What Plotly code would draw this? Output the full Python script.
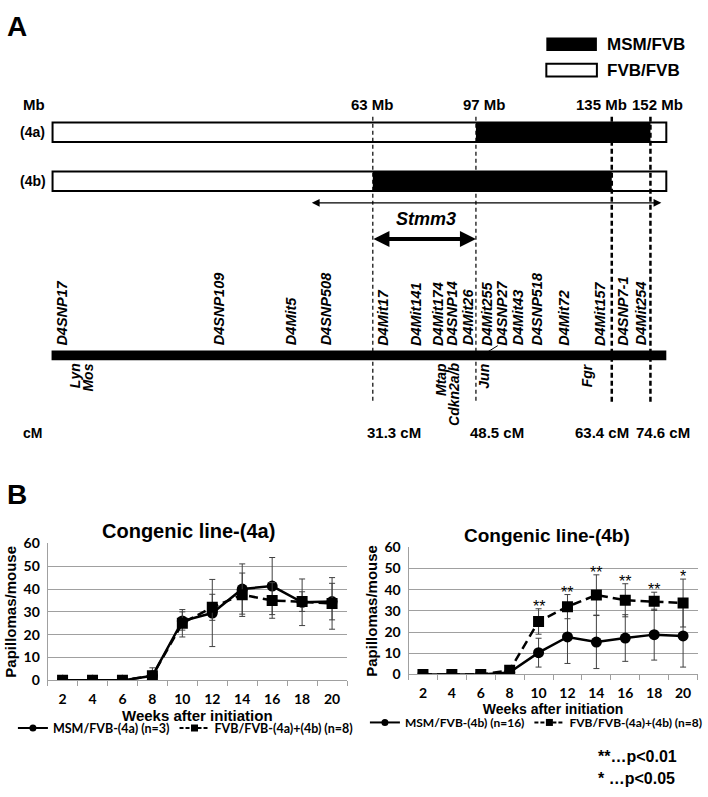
import plotly.graph_objects as go

W, H = 708, 797

# ---------------- Panel B data ----------------
weeks = [2, 4, 6, 8, 10, 12, 14, 16, 18, 20]
msm_4a_mean = [0, 0, 0, 2.0, 26.0, 29.5, 40.0, 41.3, 34.2, 34.5]
msm_4a_sd = [0, 0, 0, 3.5, 4.0, 14.7, 11.0, 12.5, 10.2, 8.0]
fvb_mean = [0, 0, 0, 2.0, 25.0, 32.0, 37.5, 35.0, 34.5, 33.7]
fvb_sd = [0, 0, 0, 2.0, 6.0, 5.7, 9.5, 7.8, 4.3, 11.3]
msm_4b_mean = [0, 0, 0, 1.0, 10.3, 17.7, 15.3, 17.2, 18.8, 18.2]
msm_4b_sd = [0, 0, 0, 1.0, 6.8, 12.5, 12.5, 11.0, 12.0, 14.7]
signif = ["", "", "", "", "**", "**", "**", "**", "**", "*"]

name_4a = "MSM/FVB-(4a) (n=3)"
name_4b = "MSM/FVB-(4b) (n=16)"
name_fvb = "FVB/FVB-(4a)+(4b) (n=8)"

# ---------------- Panel A data (schematic map positions) ----------------
mb_labels = ["63 Mb", "97 Mb", "135 Mb", "152 Mb"]
mb_label_x = [376, 489, 607, 663]
break_x = [376, 480, 617, 656]
break_bold = [False, False, True, True]
cm_labels = ["31.3 cM", "48.5 cM", "63.4 cM", "74.6 cM"]
cm_label_x = [397, 501, 607, 669]
marker_names = ["D4SNP17", "D4SNP109", "D4Mit5", "D4SNP508", "D4Mit17", "D4Mit141",
                "D4Mit174", "D4SNP14", "D4Mit26", "D4Mit255", "D4SNP27", "D4Mit43",
                "D4SNP518", "D4Mit72", "D4Mit157", "D4SNP7-1", "D4Mit254"]
marker_x = [63, 221, 293, 329, 386, 419, 441, 456, 472, 491, 506, 522, 542, 568, 605, 628, 646]
gene_names = ["Lyn", "Mos", "Mtap", "Cdkn2a/b", "Jun", "Fgr"]
gene_x = [75, 89, 445, 458, 488, 592]
chrom_start, chrom_end = 53, 672
msm_segment_4a = (480, 656)
msm_segment_4b = (376, 617)
stmm3_span = (376, 480)
candidate_span = (316, 667)

ARIAL = "Liberation Sans, Arial"
CAL = "Lato"

fig = go.Figure()


def err(arr):
    return dict(type="data", array=arr, visible=True, color="#404040", thickness=1, width=3)


def add_series(x_ax, y_ax, mean, sd, name, symbol, dash, legend):
    fig.add_trace(go.Scatter(
        x=weeks, y=mean, error_y=err(sd), mode="lines+markers", name=name, showlegend=False,
        line=dict(color="black", width=2.5, dash=dash),
        marker=dict(symbol=symbol, size=11, color="black"),
        xaxis=x_ax, yaxis=y_ax, hoverinfo="skip"))
    # legend entry with the smaller key symbol used by the original
    fig.add_trace(go.Scatter(
        x=[None], y=[None], mode="lines+markers", name=name, legend=legend,
        line=dict(color="black", width=2, dash="4px,2px" if dash != "solid" else "solid"),
        marker=dict(symbol=symbol, size=7, color="black"), xaxis=x_ax, yaxis=y_ax))


add_series("x", "y", msm_4a_mean, msm_4a_sd, name_4a, "circle", "solid", "legend")
add_series("x", "y", fvb_mean, fvb_sd, name_fvb, "square", "9px,5px", "legend")
add_series("x2", "y2", msm_4b_mean, msm_4b_sd, name_4b, "circle", "solid", "legend2")
add_series("x2", "y2", fvb_mean, fvb_sd, name_fvb, "square", "9px,5px", "legend2")

bounds = [w - 1 for w in weeks] + [weeks[-1] + 1]
GRID = "#a0a0a0"


def xax(domain, title_size, anchor):
    return dict(domain=domain, anchor=anchor, range=[bounds[0], bounds[-1]], tickmode="array",
                tickvals=weeks, ticktext=[str(w) for w in weeks], showgrid=False, showline=True,
                linecolor=GRID, linewidth=1, ticks="", zeroline=False, fixedrange=True,
                ticklabelstandoff=6,
                tickfont=dict(family=CAL, size=14, weight="bold", color="black"),
                minor=dict(ticks="outside", tickmode="array", tickvals=bounds, ticklen=5,
                           tickcolor=GRID, showgrid=False),
                title=dict(text="Weeks after initiation", standoff=1,
                           font=dict(family=ARIAL, size=title_size, weight="bold", color="black")))


def yax(domain, anchor):
    return dict(domain=domain, anchor=anchor, range=[0, 60], tickmode="linear", tick0=0, dtick=10,
                showgrid=True, gridcolor=GRID, gridwidth=1, showline=True, linecolor=GRID,
                zeroline=False, ticks="", fixedrange=True, ticklabelstandoff=4,
                tickfont=dict(family=CAL, size=14, weight="bold", color="black"),
                title=dict(text="Papillomas/mouse", standoff=3,
                           font=dict(family=ARIAL, size=15, weight="bold", color="black")))


def px(v):
    return v / W


def py(v):
    return 1 - v / H


fig.update_layout(
    width=W, height=H, margin=dict(l=0, r=0, t=0, b=0), paper_bgcolor="white",
    plot_bgcolor="white", showlegend=True,
    xaxis=xax([px(48), px(350)], 15, "y"),
    yaxis=yax([py(686), py(546)], "x"),
    xaxis2=xax([px(412), px(703.5)], 14, "y2"),
    yaxis2=yax([py(680), py(550)], "x2"),
    legend=dict(orientation="h", x=px(187), y=py(735), xanchor="center", yanchor="middle",
                font=dict(family=CAL, size=12.5, weight="bold", color="black"),
                bgcolor="rgba(0,0,0,0)", itemwidth=30, traceorder="normal"),
    legend2=dict(orientation="h", x=px(541), y=py(729), xanchor="center", yanchor="middle",
                 font=dict(family=CAL, size=12, weight="bold", color="black"),
                 bgcolor="rgba(0,0,0,0)", itemwidth=30, traceorder="normal"),
)

shapes = []
ann = []


def rect(x0, x1, y0, y1, fill, lw=0, lc="black"):
    shapes.append(dict(type="rect", xref="paper", yref="paper", x0=px(x0), x1=px(x1),
                       y0=py(y0), y1=py(y1), fillcolor=fill, line=dict(width=lw, color=lc),
                       layer="above"))


def text(x, y, s, size, xanchor="center", yanchor="middle", family=ARIAL, weight="bold",
         style="normal", angle=0, align="center"):
    ann.append(dict(xref="paper", yref="paper", x=px(x), y=py(y), text=s, showarrow=False,
                    xanchor=xanchor, yanchor=yanchor, textangle=angle, align=align, borderpad=0,
                    font=dict(family=family, size=size, weight=weight, style=style, color="black")))


def double_arrow(span, y, width, size):
    ann.append(dict(xref="paper", yref="paper", axref="pixel", ayref="pixel",
                    x=px(span[1]), y=py(y), ax=-(span[1] - span[0]), ay=0, text="",
                    showarrow=True, arrowhead=2, startarrowhead=2, arrowside="end+start",
                    arrowwidth=width, arrowsize=size, arrowcolor="black",
                    standoff=0, startstandoff=0))


# panel labels
text(6, 18, "A", 28, xanchor="left")
text(6, 496, "B", 28, xanchor="left")

# genotype legend
rect(551, 602, 29, 43, "black")
rect(551, 602, 56, 69, "white", 2)
text(611, 36, "MSM/FVB", 17, xanchor="left")
text(611, 63, "FVB/FVB", 17, xanchor="left")

# Mb header
text(34, 98, "Mb", 15)
for lab, x in zip(mb_labels, mb_label_x):
    text(x, 98, lab, 15)

# congenic bars
for lab, yc, seg in [("(4a)", 126, msm_segment_4a), ("(4b)", 176, msm_segment_4b)]:
    text(33, yc, lab, 14)
    rect(chrom_start, chrom_end, yc - 10, yc + 10, "white", 0)
    rect(seg[0], seg[1], yc - 10, yc + 10, "black", 0)
    rect(chrom_start, chrom_end, yc - 10, yc + 10, "rgba(0,0,0,0)", 2)

# chromosome
rect(chrom_start - 1, chrom_end, 349, 359, "black")

# dashed breakpoint lines
for x, bold in zip(break_x, break_bold):
    shapes.append(dict(type="line", xref="paper", yref="paper", x0=px(x), x1=px(x),
                       y0=py(110), y1=py(403),
                       line=dict(color="black", width=2.5 if bold else 1.2,
                                 dash="5px,3px" if bold else "4px,3px"), layer="above"))

# Jun leader line
shapes.append(dict(type="line", xref="paper", yref="paper", x0=px(486), x1=px(502),
                   y0=py(354), y1=py(344), line=dict(color="black", width=1), layer="above"))

# arrows
double_arrow(candidate_span, 198, 1.2, 1.3)
double_arrow(stmm3_span, 235, 4, 0.8)
text(430, 215, "Stmm3", 18, style="italic")

# marker labels
for name, x in zip(marker_names, marker_x):
    text(x, 345, name, 14.5, yanchor="bottom", weight="bold", style="italic", angle=-90)
for name, x in zip(gene_names, gene_x):
    text(x, 361, name, 14, yanchor="top", style="italic", angle=-90)

# cM row
text(33, 433, "cM", 14)
for lab, x in zip(cm_labels, cm_label_x):
    text(x, 433, lab, 15)

# chart titles
text(190, 533, "Congenic line-(4a)", 20)
text(552, 538, "Congenic line-(4b)", 19)

# significance stars
for w, m, s, st in zip(weeks, fvb_mean, fvb_sd, signif):
    if st:
        ann.append(dict(xref="x2", yref="y2", x=w, y=m + s + 1.2, text=st, showarrow=False,
                        yanchor="middle", font=dict(family=ARIAL, size=16, color="black")))

# p-value key
text(602, 764, "**\u2026p<0.01", 16, xanchor="left")
text(602, 786, "* \u2026p<0.05", 16, xanchor="left")

fig.update_layout(shapes=shapes, annotations=ann)

fig.write_html("out.html", config=dict(displayModeBar=False),
               post_script="document.body.style.margin='0';document.body.style.overflow='hidden';")
